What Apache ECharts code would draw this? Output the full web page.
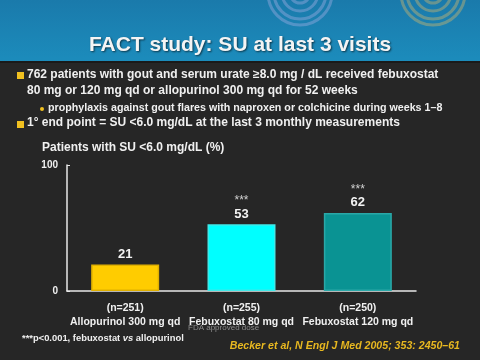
<!DOCTYPE html>
<html><head><meta charset="utf-8">
<script src="https://cdn.jsdelivr.net/npm/echarts@6/dist/echarts.min.js"></script>
<style>html,body{margin:0;padding:0;background:#262626}#c{width:480px;height:360px}</style>
</head><body><div id="c"></div>
<script>
var categories = ['Allopurinol 300 mg qd', 'Febuxostat 80 mg qd', 'Febuxostat 120 mg qd'];
var nLabels = ['(n=251)', '(n=255)', '(n=250)'];
var values = [21, 53, 62];
var significance = ['', '***', '***'];
var yTicks = [0, 100];
var barColors = ['#ffcc00', '#00ffff', '#0a9393'];
var barBorders = ['#e0b000', '#40e8e8', '#2aa8a8'];

var F = 'Liberation Sans, Arial, sans-serif';
var chart = echarts.init(document.getElementById('c'), null, {renderer: 'canvas'});

var ringsA = [], ringsB = [];
[10, 18, 26, 32].forEach(function (r) {
  ringsA.push({type: 'circle', shape: {cx: 300, cy: -7, r: r}, style: {fill: 'none', stroke: 'rgba(150,170,225,0.45)', lineWidth: 3}, silent: true});
  ringsB.push({type: 'circle', shape: {cx: 433, cy: -7, r: r}, style: {fill: 'none', stroke: 'rgba(200,180,110,0.45)', lineWidth: 3}, silent: true});
});

var graphics = [
  {type: 'rect', shape: {x: 0, y: 0, width: 480, height: 62}, style: {fill: new echarts.graphic.LinearGradient(0, 0, 0, 1, [{offset: 0, color: '#1a7aab'}, {offset: 1, color: '#1c8cbc'}])}, z: -10, silent: true}
].concat(ringsA, ringsB, [
  {type: 'rect', shape: {x: 0, y: 61, width: 480, height: 2}, style: {fill: '#1a1a1a'}, silent: true},
  {type: 'text', left: 'center', top: 35, style: {text: 'FACT study: SU at last 3 visits', fill: '#f4f4f4', font: 'bold 21px ' + F, textShadowColor: 'rgba(0,0,0,0.6)', textShadowBlur: 2, textShadowOffsetX: 1, textShadowOffsetY: 1}},
  {type: 'rect', shape: {x: 17, y: 72, width: 7, height: 7}, style: {fill: '#f0c020'}},
  {type: 'text', left: 27, top: 69, style: {text: '762 patients with gout and serum urate \u22658.0 mg / dL received febuxostat', fill: '#f0f0f0', font: 'bold 12px ' + F}},
  {type: 'text', left: 27, top: 85, style: {text: '80 mg or 120 mg qd or allopurinol 300 mg qd for 52 weeks', fill: '#f0f0f0', font: 'bold 12px ' + F}},
  {type: 'circle', shape: {cx: 42, cy: 109, r: 2}, style: {fill: '#f0c020'}},
  {type: 'text', left: 48, top: 103, style: {text: 'prophylaxis against gout flares with naproxen or colchicine during weeks 1\u20138', fill: '#f0f0f0', font: 'bold 10.7px ' + F}},
  {type: 'rect', shape: {x: 17, y: 121, width: 7, height: 7}, style: {fill: '#f0c020'}},
  {type: 'text', left: 27, top: 117, style: {text: '1\u00b0 end point = SU <6.0 mg/dL at the last 3 monthly measurements', fill: '#f0f0f0', font: 'bold 12px ' + F}},
  {type: 'text', left: 42, top: 142, style: {text: 'Patients with SU <6.0 mg/dL (%)', fill: '#f0f0f0', font: 'bold 12px ' + F}},
  {type: 'text', left: 188, top: 324, style: {text: 'FDA approved dose', fill: '#8a8a8a', font: '8px ' + F}},
  {type: 'text', left: 22, top: 334, style: {
    text: '{a|***p<0.001, febuxostat }{i|vs}{a| allopurinol}',
    rich: {a: {fill: '#f0f0f0', font: 'bold 9.4px ' + F}, i: {fill: '#f0f0f0', font: 'italic bold 9.4px ' + F}}}},
  {type: 'text', right: 20, top: 341, style: {text: 'Becker et al, N Engl J Med 2005; 353: 2450\u201361', fill: '#e8b820', font: 'italic bold 10.6px ' + F}}
]);

chart.setOption({
  backgroundColor: '#262626',
  animation: false,
  grid: {left: 67, right: 64, top: 165, bottom: 69},
  xAxis: {
    type: 'category',
    data: categories,
    axisLine: {lineStyle: {color: '#e8e8e8', width: 1.5}},
    axisTick: {show: false},
    axisLabel: {
      interval: 0, margin: 10,
      formatter: function (v, i) { return '{n|' + nLabels[i] + '}\n{b|' + v + '}'; },
      rich: {
        n: {color: '#f0f0f0', fontFamily: F, fontWeight: 'bold', fontSize: 10.5, lineHeight: 14},
        b: {color: '#f0f0f0', fontFamily: F, fontWeight: 'bold', fontSize: 10.5, lineHeight: 14}
      }
    }
  },
  yAxis: {
    type: 'value', min: yTicks[0], max: yTicks[1], interval: 100,
    axisLine: {show: true, lineStyle: {color: '#e8e8e8', width: 1.5}},
    axisTick: {show: true, inside: true, length: 3, lineStyle: {color: '#e8e8e8'}},
    splitLine: {show: false},
    axisLabel: {color: '#f0f0f0', fontFamily: F, fontWeight: 'bold', fontSize: 10, margin: 9}
  },
  series: [{
    type: 'bar',
    barWidth: 68,
    data: values.map(function (v, i) {
      return {value: v, itemStyle: {color: barColors[i], borderColor: barBorders[i], borderWidth: 1.5}};
    }),
    label: {
      show: true, position: 'top', distance: 3,
      formatter: function (p) {
        var s = significance[p.dataIndex];
        return (s ? '{s|' + s + '}\n' : '') + '{v|' + p.value + '}';
      },
      rich: {
        s: {color: '#d0d0d0', fontFamily: F, fontSize: 12, lineHeight: 13},
        v: {color: '#f4f4f4', fontFamily: F, fontWeight: 'bold', fontSize: 13, lineHeight: 14}
      }
    }
  }],
  graphic: graphics
});
</script></body></html>
